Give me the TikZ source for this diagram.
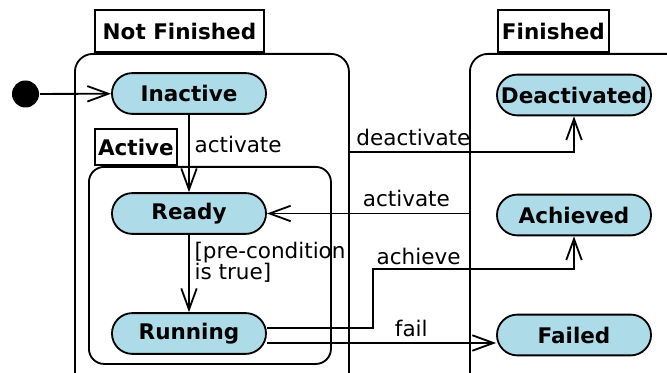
\documentclass[tikz,border=0pt]{standalone}
\usepackage{fontspec}
\setmainfont{DejaVu Sans}
\usetikzlibrary{arrows.meta}
\definecolor{stfill}{RGB}{173,220,232}

\begin{document}
\begin{tikzpicture}[x=0.025cm, y=-0.025cm, line width=1.3pt,
		every node/.style={font=\fontsize{15.3}{15}\selectfont},
		>={Straight Barb[length=15pt,width=11pt]},
		stnode/.style={draw, rectangle, rounded corners=14.5pt, fill=stfill, minimum width=3.85cm, minimum height=1.02cm, inner sep=1pt, font=\fontsize{15.3}{15}\selectfont\bfseries},
		cframe/.style={draw, rectangle, rounded corners=0.45cm, anchor=north west},
		ctab/.style={draw, rectangle, anchor=south west, inner sep=0pt, font=\fontsize{15.3}{15}\selectfont\bfseries}]
		\clip (0,0) rectangle (667,373);
		% composite states
		\node[cframe, minimum width=6.85cm, minimum height=8.5cm] (nf) at (74,53) {};
		\node[cframe, rounded corners=0.38cm, minimum width=6.05cm, minimum height=4.925cm] (act) at (88,166) {};
		\node[cframe, minimum width=6cm, minimum height=8.5cm] (fin) at (469,53) {};
		\node[ctab, minimum width=4.225cm, minimum height=1.05cm] (nftab) at (94,53) {Not Finished};
		\node[ctab, minimum width=2.05cm, minimum height=0.9cm] (acttab) at (94,166) {Active};
		\node[ctab, minimum width=2.775cm, minimum height=1.05cm] (fintab) at (497,53) {Finished};
		% simple states
		\node[circle, fill=black, minimum size=0.675cm, inner sep=0pt] (init) at (25.5,94) {};
		\node[stnode] (inactive) at (189,93.5) {Inactive};
		\node[stnode] (ready) at (189,213.5) {Ready};
		\node[stnode] (running) at (189,333.5) {Running};
		\node[stnode] (deact) at (574,95) {Deactivated};
		\node[stnode] (achieved) at (574,215) {Achieved};
		\node[stnode] (failed) at (574,335) {Failed};
		\coordinate (bend) at (373,269);
		% transitions
		\draw[->] (init) -- (inactive);
		\draw[->] (inactive) -- node[pos=0.38, right] {activate} (ready);
		\draw[->] (ready) -- node[pos=0.35, right, align=left] {[pre-condition\\is true]} (running);
		\draw[->] (nf.east |- 0,152) -| node[pos=0, above right, inner sep=4pt] {deactivate} (deact);
		\draw[->] (fin.west |- ready) -- node[pos=0.31, above, inner sep=4pt] {activate} (ready);
		\draw[->] (running.east |- 0,328) -| (bend) -| node[pos=0, above right, inner sep=2pt] {achieve} (achieved);
		\draw[->] (running.east |- 0,343) -- node[pos=0.63, above, inner sep=4pt] {fail} (failed.west |- 0,343);
	\end{tikzpicture}
\end{document}
